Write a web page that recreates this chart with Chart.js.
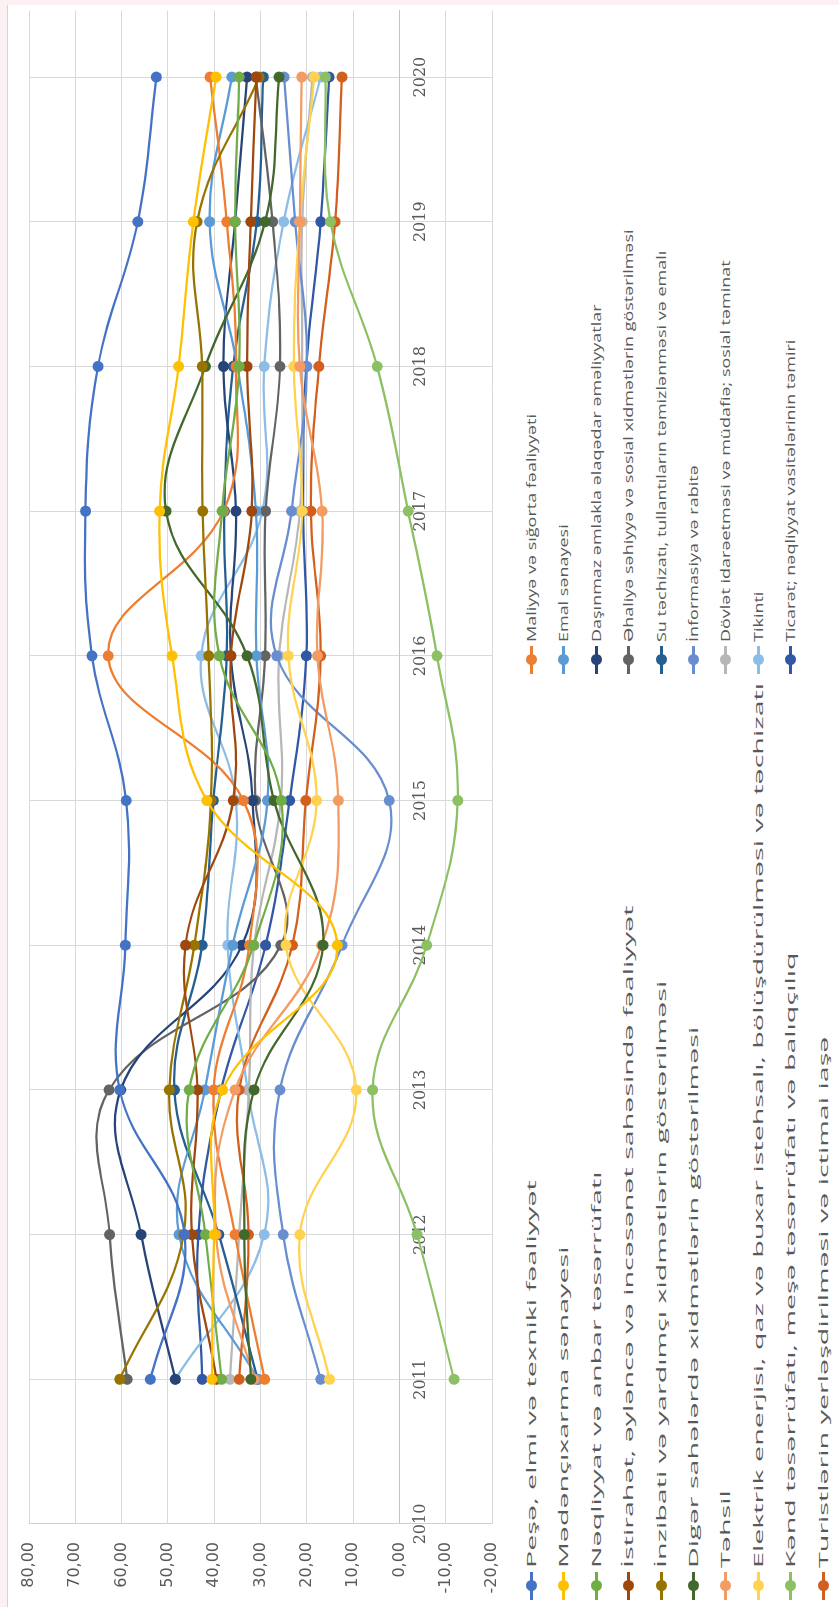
<!DOCTYPE html>
<html lang="az">

<head>
    <script src="https://cdn.jsdelivr.net/npm/chart.js"></script>
    <meta charset="UTF-8">
    <title>Sahələr üzrə göstəricilər</title>
    <style>
        body {
            margin: 0;
            width: 839px;
            height: 1607px;
            overflow: hidden;
            background: #fdf0f3;
            font-family: "Open Sans", "DejaVu Sans", sans-serif;
        }

        /* the chart is built landscape and turned a quarter to the left */
        #land {
            position: absolute;
            left: 0;
            top: 0;
            width: 1607px;
            height: 839px;
            transform-origin: 0 0;
            transform: translate(0px, 1607px) rotate(-90deg);
        }

        #paper {
            position: absolute;
            left: 0;
            top: 7px;
            width: 1602px;
            height: 832px;
            background: #fff;
            border-top: 1px solid #d4d4d4;
        }

        #plot {
            position: absolute;
            left: 0;
            top: 0;
            width: 1602px;
            height: 520px;
        }

        .item {
            position: absolute;
            height: 20px;
            display: flex;
            align-items: center;
            white-space: nowrap;
        }

        .sw {
            position: relative;
            width: 28px;
            height: 20px;
            flex: none;
        }

        .sw i {
            position: absolute;
            left: 0;
            top: 9px;
            width: 28px;
            height: 3px;
        }

        .sw b {
            position: absolute;
            left: 9px;
            top: 5px;
            width: 11px;
            height: 11px;
            border-radius: 50%;
        }

        .txt {
            display: inline-block;
            margin-left: 4px;
            font-size: 13px;
            color: #595959;
            transform-origin: 0 50%;
        }
    </style>
</head>

<body>
    <div id="land">
        <div id="paper"></div>
        <div id="plot"><canvas id="lineChart"></canvas></div>
        <div id="legend"></div>
    </div>

    <script>
        const years = [2011, 2012, 2013, 2014, 2015, 2016, 2017, 2018, 2019, 2020];
        const xTicks = [2010, 2011, 2012, 2013, 2014, 2015, 2016, 2017, 2018, 2019, 2020];

        const pese = [53.8, 46.4, 60.4, 59.2, 59.0, 66.4, 67.8, 65.1, 56.5, 52.5];
        const medencixarma = [40.5, 40.0, 38.2, 13.4, 41.6, 49.1, 51.8, 47.7, 44.5, 39.6];
        const neqliyyat = [38.4, 41.9, 45.4, 31.5, 25.5, 38.9, 38.3, 34.6, 35.5, 34.6];
        const istirahet = [39.5, 44.8, 43.6, 46.2, 35.9, 36.4, 31.9, 32.9, 32.1, 30.9];
        const inzibati = [60.4, 46.6, 49.7, 44.3, 40.7, 41.2, 42.5, 42.6, 43.7, 30.3];
        const diger = [32.1, 33.5, 31.4, 16.5, 27.1, 32.9, 50.4, 41.9, 29.0, 26.0];
        const tehsil = [31.4, 39.6, 35.5, 16.8, 13.2, 17.7, 16.7, 21.5, 21.5, 21.1];
        const elektrik = [15.1, 21.5, 9.3, 24.5, 17.9, 24.0, 21.0, 22.8, 21.5, 18.4];
        const kend = [-11.8, -3.8, 5.8, -5.9, -12.6, -8.1, -1.9, 4.8, 14.9, 16.0];
        const turist = [34.6, 32.6, 34.6, 23.1, 20.2, 17.0, 19.1, 17.4, 13.9, 12.4];
        const maliyye = [29.1, 35.5, 40.1, 32.4, 33.7, 62.9, 38.0, 35.3, 37.3, 40.9];
        const emal = [30.6, 47.6, 42.0, 36.0, 28.5, 30.9, 31.0, 35.0, 41.0, 36.2];
        const dasinmaz = [48.4, 55.8, 60.2, 34.0, 31.7, 36.4, 35.3, 38.0, 35.5, 32.9];
        const ehaliye = [58.8, 62.6, 62.7, 25.6, 31.1, 29.0, 28.9, 25.8, 27.4, 31.0];
        const su = [30.6, 39.0, 48.6, 42.6, 40.2, 37.3, 37.8, 35.9, 30.8, 29.4];
        const informasiya = [17.0, 25.1, 25.8, 12.4, 2.2, 26.5, 23.3, 20.0, 22.5, 24.9];
        const dovlet = [36.6, 34.6, 32.5, 31.4, 25.6, 26.0, 21.5, 21.0, 21.0, 18.8];
        const tikinti = [48.4, 29.2, 32.8, 37.1, 35.3, 42.8, 29.6, 29.2, 25.0, 17.0];
        const ticaret = [42.6, 43.4, 38.5, 28.9, 23.7, 20.1, 20.8, 20.1, 17.0, 15.2];

        const seriesNames = [
            'Peşə, elmi və texniki fəaliyyət',
            'Mədənçıxarma sənayesi',
            'Nəqliyyat və anbar təsərrüfatı',
            'İstirahət, əyləncə və incəsənət sahəsində fəaliyyət',
            'İnzibati və yardımçı xidmətlərin göstərilməsi',
            'Digər sahələrdə xidmətlərin göstərilməsi',
            'Təhsil',
            'Elektrik enerjisi, qaz və buxar istehsalı, bölüşdürülməsi və təchizatı',
            'Kənd təsərrüfatı, meşə təsərrüfatı və balıqçılıq',
            'Turistlərin yerləşdirilməsi və ictimai iaşə',
            'Maliyyə və sığorta fəaliyyəti',
            'Emal sənayesi',
            'Daşınmaz əmlakla əlaqədar əməliyyatlar',
            'Əhaliyə səhiyyə və sosial xidmətlərin göstərilməsi',
            'Su təchizatı, tullantıların təmizlənməsi və emalı',
            'İnformasiya və rabitə',
            'Dövlət idarəetməsi və müdafiə; sosial təminat',
            'Tikinti',
            'Ticarət; nəqliyyat vasitələrinin təmiri'
        ];
        const seriesValues = [pese, medencixarma, neqliyyat, istirahet, inzibati, diger, tehsil, elektrik, kend, turist,
            maliyye, emal, dasinmaz, ehaliye, su, informasiya, dovlet, tikinti, ticaret];
        const seriesColors = ['#4472C4', '#FFC000', '#70AD47', '#9E480E', '#997300', '#43682B', '#F29B62', '#FFD34F',
            '#8CC063', '#D35F1E', '#ED7D31', '#5B9BD5', '#264478', '#636363', '#255E91', '#698ED0', '#B7B7B7',
            '#8DBDE6', '#3158A5'];

        Chart.defaults.color = '#595959';

        const datasets = seriesNames.map((name, i) => ({
            label: name,
            data: years.map((yr, j) => ({ x: yr, y: seriesValues[i][j] })),
            borderColor: seriesColors[i],
            backgroundColor: seriesColors[i],
            borderWidth: 2.25,
            pointRadius: 5.5,
            pointBorderWidth: 0,
            tension: 0.4
        }));

        new Chart(document.getElementById('lineChart'), {
            type: 'line',
            data: { datasets: datasets },
            options: {
                animation: false,
                responsive: true,
                maintainAspectRatio: false,
                layout: { padding: { top: 29, bottom: 28, left: 0, right: 0 } },
                scales: {
                    x: {
                        type: 'linear',
                        min: 2010,
                        max: 2020.46,
                        position: { y: 0 },
                        afterBuildTicks: scale => { scale.ticks = xTicks.map(v => ({ value: v })); },
                        grid: { color: '#d9d9d9', drawTicks: false },
                        border: { color: '#c4c4c4' },
                        ticks: {
                            padding: 12,
                            maxRotation: 0,
                            autoSkip: false,
                            font: { family: 'DejaVu Serif', size: 16 },
                            callback: v => String(v)
                        }
                    },
                    y: {
                        min: -20,
                        max: 80,
                        afterFit: scale => { scale.width = 83; },
                        grid: { color: '#d9d9d9', drawTicks: false },
                        border: { color: '#d0d0d0' },
                        ticks: {
                            stepSize: 10,
                            padding: 18,
                            font: { family: 'DejaVu Sans', size: 16 },
                            callback: v => v.toFixed(2).replace('.', ',')
                        }
                    }
                },
                plugins: {
                    legend: { display: false },
                    tooltip: { enabled: false }
                }
            }
        });

        // legend: two columns under the plot (landscape view)
        const legend = document.getElementById('legend');
        const rowTop = 531, rowStep = 32.4;
        const spans = [];
        seriesNames.forEach((name, i) => {
            const col = i < 10 ? 0 : 1;
            const row = col ? i - 10 : i;
            const item = document.createElement('div');
            item.className = 'item';
            item.style.left = (col ? 933 : 7) + 'px';
            item.style.top = (rowTop + row * rowStep - 10) + 'px';
            item.innerHTML = '<span class="sw"><i style="background:' + seriesColors[i] + '"></i><b style="background:' +
                seriesColors[i] + '"></b></span><span class="txt"></span>';
            item.querySelector('.txt').textContent = name;
            legend.appendChild(item);
            spans.push(item.querySelector('.txt'));
        });
        // the picture stretches the left column more than the right one
        const kLeft = 885 / spans[7].offsetWidth;
        const kRight = 412 / spans[13].offsetWidth;
        spans.forEach((s, i) => { s.style.transform = 'scaleX(' + (i < 10 ? kLeft : kRight) + ')'; });
    </script>
</body>

</html>
